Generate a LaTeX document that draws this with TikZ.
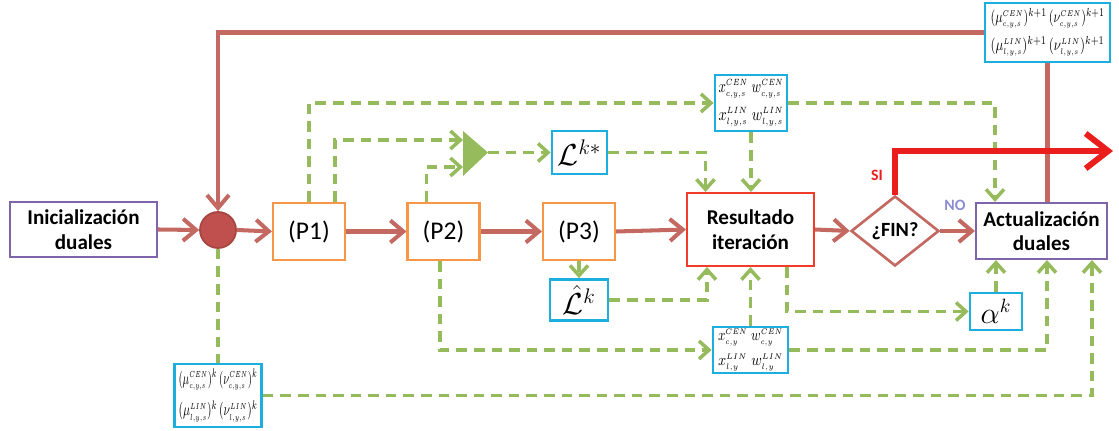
\documentclass[tikz,border=0pt]{standalone}
\usepackage{fontspec}
\usepackage{graphicx}
\setmainfont{Carlito}
\usetikzlibrary{arrows.meta,shapes.geometric,calc}
\definecolor{rb}{RGB}{196,104,98}
\definecolor{grn}{RGB}{150,187,92}
\definecolor{cy}{RGB}{28,174,222}
\definecolor{org}{RGB}{247,150,70}
\definecolor{pur}{RGB}{128,100,170}
\definecolor{rres}{RGB}{240,60,40}
\definecolor{sired}{RGB}{235,30,30}
\definecolor{nocol}{RGB}{140,140,210}
\definecolor{circfill}{RGB}{192,80,77}
\definecolor{circdraw}{RGB}{165,70,65}
\newcommand\fitwh[3]{\resizebox*{#1}{#2}{$#3$}}
\newcommand\ssl[1]{{\scriptscriptstyle #1}}
\begin{document}
\begin{tikzpicture}[x=0.02cm,y=-0.02cm,
 box/.style={draw,line width=1.2pt,fill=white,inner sep=1pt,align=center},
 purbox/.style={box,draw=pur,font=\fontsize{12}{14}\selectfont\bfseries},
 pbox/.style={box,draw=org,minimum width=1.44cm,minimum height=1.14cm,font=\fontsize{14.5}{16}\selectfont},
 cybox/.style={box,draw=cy,line width=1.6pt,inner sep=0.5pt},
 rbarrow/.style={draw=rb,line width=2.3pt,-{Straight Barb[length=2.6mm,width=4.4mm]}},
 rbline/.style={draw=rb,line width=2.3pt},
 garrow/.style={draw=grn,line width=2pt,dash pattern=on 6pt off 4pt,-{Straight Barb[length=2mm,width=3.6mm]}},
 gline/.style={draw=grn,line width=2pt,dash pattern=on 6pt off 4pt},
 lab/.style={font=\fontsize{9}{10}\selectfont\bfseries,inner sep=0pt}
]
\useasboundingbox (0,0) rectangle (1119,431);

% main chain
\node[purbox,minimum width=2.94cm,minimum height=1.10cm] (init) at (83.5,229.5) {Inicialización\\duales};
\node[circle,draw=circdraw,fill=circfill,line width=1pt,minimum size=0.72cm,inner sep=0pt] (circ) at (218,230) {};
\node[pbox] (P1) at (309,231.5) {(P1)};
\node[pbox] (P2) at (443.5,231.5) {(P2)};
\node[pbox] (P3) at (579,231.5) {(P3)};
\node[box,draw=rres,minimum width=2.54cm,minimum height=1.46cm,font=\fontsize{12}{14}\selectfont\bfseries] (res) at (750.5,229.5) {Resultado\\iteración};
\node[diamond,draw=rb,line width=1.5pt,fill=white,minimum width=1.76cm,minimum height=1.40cm,inner sep=0pt,font=\fontsize{11.5}{13}\selectfont\bfseries] (fin) at (895,231) {¿FIN?};
\node[purbox,minimum width=2.62cm,minimum height=1.12cm] (act) at (1041.5,231) {Actualización\\duales};

% data boxes
\node[cybox,minimum width=2.50cm,minimum height=1.18cm,font=\fontsize{10}{14}\selectfont] (topR) at (1047.5,32.5)
 {\fitwh{2.28cm}{0.40cm}{(\mu^{\ssl{CEN}}_{\ssl{c,y,s}})^{k+1}\,(\nu^{\ssl{CEN}}_{\ssl{c,y,s}})^{k+1}}\\[2pt]\fitwh{2.28cm}{0.40cm}{(\mu^{\ssl{LIN}}_{\ssl{l,y,s}})^{k+1}\,(\nu^{\ssl{LIN}}_{\ssl{l,y,s}})^{k+1}}};
\node[cybox,minimum width=1.44cm,minimum height=1.12cm,font=\fontsize{10}{14}\selectfont] (xwT) at (751,103)
 {\fitwh{1.30cm}{0.38cm}{x^{\ssl{CEN}}_{\ssl{c,y,s}}\;w^{\ssl{CEN}}_{\ssl{c,y,s}}}\\[2pt]\fitwh{1.30cm}{0.38cm}{x^{\ssl{LIN}}_{\ssl{l,y,s}}\;w^{\ssl{LIN}}_{\ssl{l,y,s}}}};
\node[cybox,minimum width=1.10cm,minimum height=0.86cm,font=\fontsize{17}{18}\selectfont] (Lk) at (579.5,152.5) {$\mathcal{L}^{k*}$};
\node[cybox,minimum width=1.16cm,minimum height=0.82cm,font=\fontsize{17}{18}\selectfont] (Lhat) at (579,300) {$\hat{\mathcal{L}}^{k}$};
\node[cybox,minimum width=1.04cm,minimum height=0.74cm,font=\fontsize{16}{17}\selectfont] (alpha) at (996,311.5) {$\alpha^{k}$};
\node[cybox,minimum width=1.50cm,minimum height=0.92cm,font=\fontsize{10}{13}\selectfont] (xwB) at (750.5,350)
 {\fitwh{1.30cm}{0.34cm}{x^{\ssl{CEN}}_{\ssl{c,y}}\;w^{\ssl{CEN}}_{\ssl{c,y}}}\\[1pt]\fitwh{1.30cm}{0.34cm}{x^{\ssl{LIN}}_{\ssl{l,y}}\;w^{\ssl{LIN}}_{\ssl{l,y}}}};
\node[cybox,minimum width=1.74cm,minimum height=1.26cm,font=\fontsize{10}{16}\selectfont] (bl) at (218,395.5)
 {\fitwh{1.58cm}{0.42cm}{(\mu^{\ssl{CEN}}_{\ssl{c,y,s}})^{k}\,(\nu^{\ssl{CEN}}_{\ssl{c,y,s}})^{k}}\\[2pt]\fitwh{1.58cm}{0.42cm}{(\mu^{\ssl{LIN}}_{\ssl{l,y,s}})^{k}\,(\nu^{\ssl{LIN}}_{\ssl{l,y,s}})^{k}}};

% triangle
\coordinate (triA) at (463,131);
\coordinate (triB) at (463,176);
\coordinate (triT) at (488,152.5);
\coordinate (tin1) at (463,140);
\coordinate (tin2) at (463,167);
\fill[grn] (triA) -- (triT) -- (triB) -- cycle;

% green dashed connectors
\draw[garrow] (P1.north) |- (xwT.west);
\draw[garrow] ($(P1.north)+(26,0)$) |- (tin1);
\draw[garrow] ($(P2.north)+(-17,0)$) |- (tin2);
\draw[garrow] (triT) -- (Lk.west);
\draw[garrow] (Lk.east) -| ($(res.north)+(-45,0)$);
\draw[garrow] (xwT.south) -- (xwT.south |- res.north);
\draw[garrow] (xwT.east) -| ($(act.north)+(-46.5,0)$);
\draw[garrow] (P3.south) -- (Lhat.north);
\draw[garrow] (Lhat.east) -| ($(res.south)+(-43.5,0)$);
\draw[garrow] (xwB.north) -- (xwB.north |- res.south);
\draw[garrow] ($(res.south)+(36.5,0)$) |- (alpha.west);
\draw[garrow] (alpha.north) -- (alpha.north |- act.south);
\draw[garrow] ($(P2.south)+(-3.5,0)$) |- (xwB.west);
\draw[garrow] (xwB.east) -| ($(act.south)+(5.5,0)$);
\draw[garrow] (bl.east) -| ($(act.south)+(50.5,0)$);
\draw[gline] (circ.south) -- (circ.south |- bl.north);

% red-brown flow
\draw[rbarrow] (init.east) -- (circ.west);
\draw[rbarrow] (circ.east) -- (P1.west);
\draw[rbarrow] (P1.east) -- (P2.west);
\draw[rbarrow] (P2.east) -- (P3.west);
\draw[rbarrow] (P3.east) -- (res.west);
\draw[rbarrow] (res.east) -- (fin.west);
\draw[rbarrow] (fin.east) -- (act.west);
\draw[rbline] (topR.south |- act.north) -- (topR.south);
\draw[rbarrow] (topR.west) -| (circ.north);

% SI exit
\coordinate (siend) at (1113,151);
\draw[sired,line width=3.4pt,-{Straight Barb[length=4.5mm,width=7mm]}] (fin.north) |- (siend);
\node[lab,text=sired] (si) at (877,175) {SI};
\node[lab,text=nocol] (no) at (955,205) {NO};
\end{tikzpicture}
\end{document}
